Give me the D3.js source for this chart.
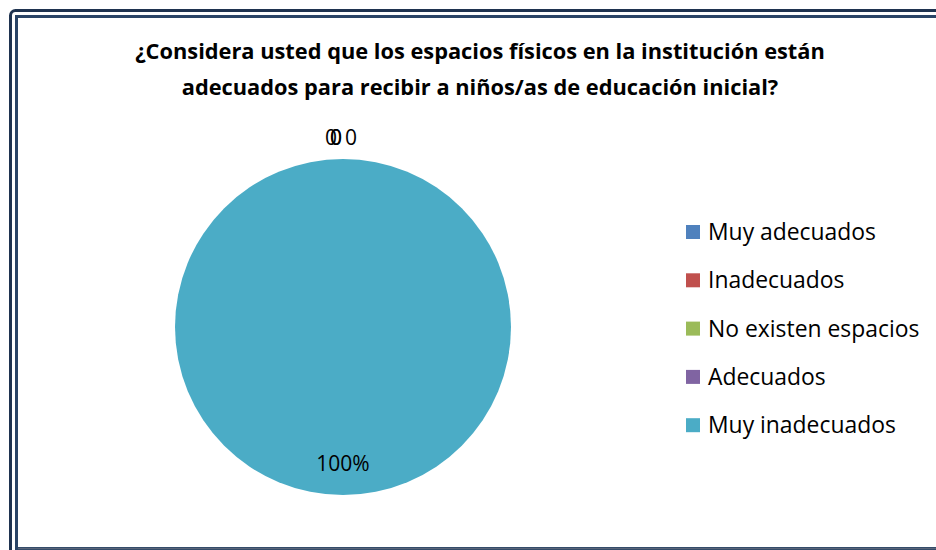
<!DOCTYPE html>
<html><head><meta charset="utf-8">
<script src="https://cdn.jsdelivr.net/npm/d3@7/dist/d3.min.js"></script>
<style>body{margin:0;background:#fff}svg{display:block}</style>
</head><body>
<svg id="c" width="936" height="550"></svg>
<script>
const categories = ["Muy adecuados","Inadecuados","No existen espacios","Adecuados","Muy inadecuados"];
const values = [0,0,0,0,100];
const labels = ["0","0","0","0","100%"];
const colors = ["#4F81BD","#C0504D","#9BBB59","#8064A2","#4BACC6"];
const titleLines = ["¿Considera usted que los espacios físicos en la institución están","adecuados para recibir a niños/as de educación inicial?"];

const svg = d3.select("#c");
const font = "'Open Sans', 'Noto Sans', sans-serif";

// frame
svg.append("rect").attr("x",10.5).attr("y",10.5).attr("width",960).attr("height",600).attr("rx",5)
  .attr("fill","none").attr("stroke","#1F3350").attr("stroke-width",3);
svg.append("rect").attr("x",16.5).attr("y",16.5).attr("width",960).attr("height",532)
  .attr("fill","none").attr("stroke","#2A4466").attr("stroke-width",3);
svg.append("line").attr("x1",18).attr("x2",936).attr("y1",548.5).attr("y2",548.5).attr("stroke","#5a6478").attr("stroke-width",1.5);

// title
svg.append("g").selectAll("text").data(titleLines).join("text")
  .attr("x",480).attr("y",(d,i)=>59+i*36).attr("text-anchor","middle")
  .attr("font-family",font).attr("font-weight","bold").attr("font-size",21.8).attr("fill","#000")
  .text(d=>d);

// pie
const cx=343, cy=327, r=168;
const pie = d3.pie().sort(null).value(d=>d)(values);
const arc = d3.arc().innerRadius(0).outerRadius(r);
const g = svg.append("g").attr("transform",`translate(${cx},${cy})`);
g.selectAll("path").data(pie).join("path").attr("d",arc).attr("fill",(d,i)=>colors[i]);

// labels
const zeroOffsets = [-12,-7,-7,8];
g.selectAll("text.lbl").data(pie).join("text").attr("class","lbl")
  .attr("text-anchor","middle").attr("font-family",font).attr("font-size",21).attr("fill","#000")
  .attr("x",(d,i)=> d.value===0 ? zeroOffsets[i] : 0)
  .attr("y",(d,i)=> d.value===0 ? -r-14 : r*0.855)
  .text((d,i)=>labels[i]);

// legend
const lg = svg.append("g").attr("transform","translate(686,232)");
const items = lg.selectAll("g").data(categories).join("g").attr("transform",(d,i)=>`translate(0,${i*48.3})`);
items.append("rect").attr("x",0).attr("y",-7).attr("width",14).attr("height",14).attr("fill",(d,i)=>colors[i]);
items.append("text").attr("x",22).attr("y",8).attr("font-family",font).attr("font-size",22.9).attr("fill","#000").text(d=>d);
</script>
</body></html>
